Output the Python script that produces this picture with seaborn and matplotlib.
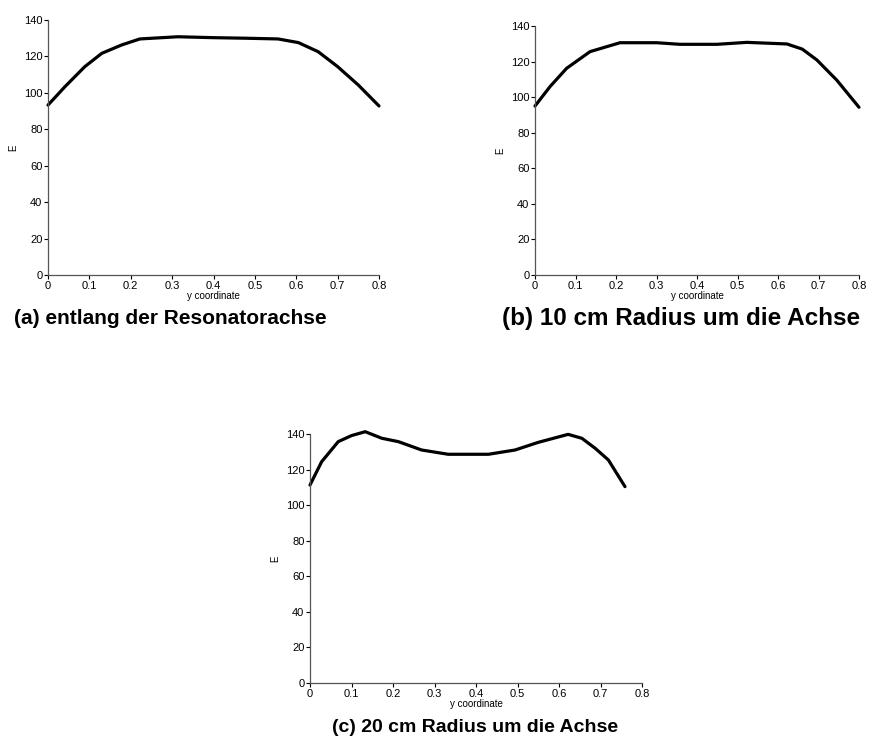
import numpy as np
import pandas as pd
import seaborn as sns
import matplotlib
matplotlib.use("Agg")
import matplotlib.pyplot as plt

# Panel (a): along resonator axis
xa = [0.0, 0.041, 0.089, 0.13, 0.178, 0.222, 0.314, 0.40, 0.476, 0.556, 0.605, 0.653, 0.70, 0.75, 0.80]
ya = [93.3, 103.4, 114.4, 121.7, 126.3, 129.6, 130.8, 130.3, 130.0, 129.6, 127.6, 122.6, 114.4, 104.3, 92.8]

# Panel (b): 10 cm radius
xb = [0.0, 0.037, 0.078, 0.136, 0.21, 0.30, 0.358, 0.449, 0.523, 0.622, 0.66, 0.696, 0.745, 0.80]
yb = [95.0, 105.9, 116.2, 125.6, 130.6, 130.6, 129.7, 129.7, 130.8, 129.9, 127.0, 120.9, 109.6, 94.3]

# Panel (c): 20 cm radius
xc = [0.0, 0.028, 0.068, 0.10, 0.133, 0.173, 0.213, 0.269, 0.333, 0.43, 0.494, 0.55, 0.622, 0.655, 0.687, 0.719, 0.759]
yc = [111.3, 124.4, 135.7, 139.1, 141.3, 137.6, 135.7, 131.0, 128.6, 128.6, 131.0, 135.3, 139.8, 137.6, 132.0, 125.4, 110.4]

captions = ["(a) entlang der Resonatorachse", "(b) 10 cm Radius um die Achse", "(c) 20 cm Radius um die Achse"]
xticks = [0, 0.1, 0.2, 0.3, 0.4, 0.5, 0.6, 0.7, 0.8]
xticklabels = ["0", "0.1", "0.2", "0.3", "0.4", "0.5", "0.6", "0.7", "0.8"]
yticks = [0, 20, 40, 60, 80, 100, 120, 140]

sns.set_style("white")
plt.rcParams['font.family'] = ['Liberation Sans', 'DejaVu Sans']
plt.rcParams['text.color'] = 'black'

W, H = 883, 745
fig = plt.figure(figsize=(W / 100, H / 100), dpi=100)

def px_axes(l, t, r, b):
    return fig.add_axes([l / W, 1 - b / H, (r - l) / W, (b - t) / H])

boxes = [(48, 20, 379, 275), (535, 26, 859, 275), (310, 434, 642, 683)]
datasets = [(xa, ya), (xb, yb), (xc, yc)]
cap_pos = [(170, 318), (681, 318), (475, 727)]
cap_size = [15, 17.5, 14]

for (box, (x, y), cap, cp, cs) in zip(boxes, datasets, captions, cap_pos, cap_size):
    ax = px_axes(*box)
    df = pd.DataFrame({"x": x, "y": y})
    sns.lineplot(data=df, x="x", y="y", ax=ax, color="black", linewidth=2.3)
    for ln in ax.lines:
        ln.set_clip_on(False)
        ln.set_solid_joinstyle("round")
    ax.set_xlim(0, 0.8)
    ax.set_ylim(0, 140)
    ax.set_xticks(xticks)
    ax.set_xticklabels(xticklabels)
    ax.set_yticks(yticks)
    ax.tick_params(axis="both", labelsize=8, direction="out", length=3, width=0.8,
                   pad=1, colors="black", labelcolor="black", left=True, bottom=True)
    for s in ["top", "right"]:
        ax.spines[s].set_visible(False)
    for s in ["left", "bottom"]:
        ax.spines[s].set_color("#555555")
        ax.spines[s].set_linewidth(0.9)
    ax.set_xlabel("y coordinate", fontsize=7, labelpad=0, color="black")
    ax.set_ylabel("E", fontsize=7, labelpad=4, color="black")
    fig.text(cp[0] / W, 1 - cp[1] / H, cap, ha="center", va="center",
             fontsize=cs, fontweight="bold", color="black")

fig.savefig("out.png", dpi=100)
